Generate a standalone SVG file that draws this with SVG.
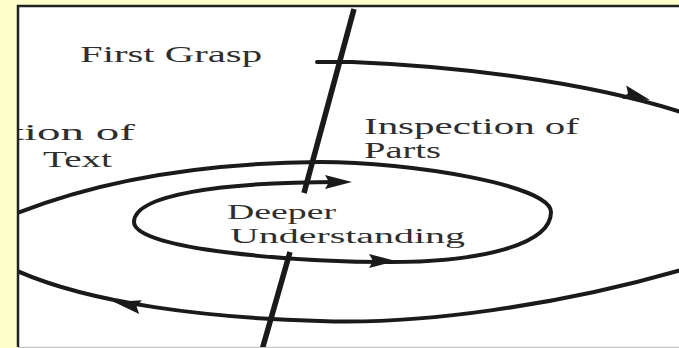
<svg xmlns="http://www.w3.org/2000/svg" width="679" height="348" viewBox="0 0 679 348">
<style>
.lbl{font-family:"Liberation Serif","Times New Roman",serif;font-size:23px;fill:#2e2e2e}
.tight{font-size:20.5px}
.curve{fill:none;stroke:#1a1a1a;stroke-width:4;stroke-linecap:round;stroke-linejoin:round}
.axis{fill:none;stroke:#1a1a1a;stroke-width:5.5;stroke-linecap:butt}
.head{fill:#1a1a1a}
</style>
<defs>
<clipPath id="frame"><rect x="19" y="7" width="660" height="340"/></clipPath>
<path id="ah" class="head" d="M0,0 L-27,-7 L-23,0 L-27,7 Z"/>
</defs>
<rect x="0" y="0" width="679" height="348" fill="#FFFFCC"/>
<rect x="18" y="6" width="661" height="341" fill="#FFFFFF"/>
<path d="M18,347.5 L679,347.5" stroke="#c4c4c4" stroke-width="1.5" fill="none"/>
<path d="M18,347 L18,6 L679,6" stroke="#222222" stroke-width="2.5" fill="none"/>
<g id="connectors" clip-path="url(#frame)">
<path class="axis" d="M354,9 L304,193"/>
<path class="axis" d="M290,252 L262,350"/>
<path class="curve" d="M317,62 L352,62 C450,66 580,80 681,112"/>
<path class="curve" d="M681,270 C560,305 420,325 320,321 C210,318 90,304 15,270"/>
<path class="curve" d="M15,214 C100,180 200,163 320,162 C410,162 551,185 551,212 C551,245 480,262 390,262 C300,262 134,250 134,222 C134,195 220,182 340,182"/>
<use href="#ah" transform="translate(352,182)"/>
<use href="#ah" transform="translate(396,261)"/>
<use href="#ah" transform="translate(650,100) rotate(17)"/>
<use href="#ah" transform="translate(114,302) rotate(191)"/>
</g>
<g id="first-grasp"><text class="lbl" x="80" y="62" textLength="182" lengthAdjust="spacingAndGlyphs">First Grasp</text></g>
<g id="inspection-of-parts">
<text class="lbl" x="364" y="134" textLength="215" lengthAdjust="spacingAndGlyphs">Inspection of</text>
<text class="lbl" x="364" y="158" textLength="77" lengthAdjust="spacingAndGlyphs">Parts</text>
</g>
<g id="interpretation-of-text" clip-path="url(#frame)">
<text class="lbl" x="11" y="140" textLength="124" lengthAdjust="spacingAndGlyphs">tion of</text>
<text class="lbl" x="43" y="167" textLength="69" lengthAdjust="spacingAndGlyphs">Text</text>
</g>
<g id="deeper-understanding">
<text class="lbl tight" x="227" y="219" textLength="109" lengthAdjust="spacingAndGlyphs">Deeper</text>
<text class="lbl tight" x="230" y="243" textLength="235" lengthAdjust="spacingAndGlyphs">Understanding</text>
</g>
</svg>
